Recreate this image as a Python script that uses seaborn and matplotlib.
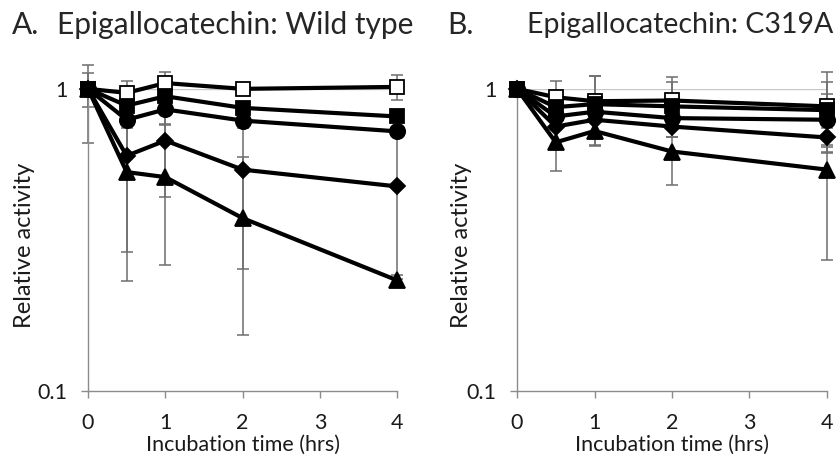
import matplotlib
matplotlib.use("Agg")
import matplotlib.pyplot as plt
import seaborn as sns
from matplotlib.ticker import FixedLocator, NullLocator, FixedFormatter

sns.set_theme(style="white")
plt.rcParams["font.family"] = ["Lato", "DejaVu Sans"]

# incubation times (hrs)
TIME = [0, 0.5, 1, 2, 4]
SERIES = ["open_sq", "sq", "circle", "diamond", "triangle"]

# A. wild type — relative activity
WT_VALUES = {
    "open_sq": [1.0, 0.97, 1.045, 1.0, 1.015],
    "sq": [1.0, 0.88, 0.945, 0.865, 0.81],
    "circle": [1.0, 0.79, 0.855, 0.785, 0.723],
    "diamond": [1.0, 0.60, 0.674, 0.54, 0.475],
    "triangle": [1.0, 0.53, 0.51, 0.373, 0.232],
}
WT_ERR_LO = {
    "open_sq": [0.0, 0.09, 0.09, 0.02, 0.10],
    "sq": [0.13, 0.04, 0.04, 0.03, 0.02],
    "circle": [0.34, 0.047, 0.09, 0.045, 0.02],
    "diamond": [0.0, 0.313, 0.237, 0.287, 0.24],
    "triangle": [0.0, 0.30, 0.25, 0.22, 0.01],
}
WT_ERR_HI = {
    "open_sq": [0.0, 0.09, 0.09, 0.02, 0.10],
    "sq": [0.13, 0.04, 0.04, 0.03, 0.02],
    "circle": [0.20, 0.047, 0.09, 0.045, 0.02],
    "diamond": [0.0, 0.313, 0.237, 0.287, 0.24],
    "triangle": [0.0, 0.30, 0.25, 0.22, 0.01],
}

# B. C319A — relative activity
MUT_VALUES = {
    "open_sq": [1.0, 0.938, 0.91, 0.915, 0.875],
    "sq": [1.0, 0.87, 0.89, 0.875, 0.85],
    "circle": [1.0, 0.81, 0.84, 0.80, 0.79],
    "diamond": [1.0, 0.75, 0.79, 0.75, 0.69],
    "triangle": [1.0, 0.665, 0.725, 0.62, 0.54],
}
MUT_ERR = {
    "open_sq": [0.0, 0.127, 0.19, 0.18, 0.26],
    "sq": [0.0, 0.05, 0.21, 0.18, 0.20],
    "circle": [0.0, 0.05, 0.12, 0.05, 0.17],
    "diamond": [0.0, 0.12, 0.14, 0.06, 0.05],
    "triangle": [0.0, 0.13, 0.08, 0.14, 0.27],
}

TITLES = [("A.", "Epigallocatechin: Wild type"), ("B.", "Epigallocatechin: C319A")]

MARKERS = {
    "open_sq": dict(marker="s", markersize=10.5, markerfacecolor="white"),
    "sq": dict(marker="s", markersize=10.5, markerfacecolor="black"),
    "circle": dict(marker="o", markersize=11, markerfacecolor="black"),
    "diamond": dict(marker="D", markersize=8.5, markerfacecolor="black"),
    "triangle": dict(marker="^", markersize=12, markerfacecolor="black"),
}
AXIS_GREY = "#8c8c8c"
TEXT = "#1a1a1a"

fig = plt.figure(figsize=(8.4, 4.58), dpi=100)
ax_a = fig.add_axes([0.1048, 0.147, 0.368, 0.659])
ax_b = fig.add_axes([0.6155, 0.147, 0.369, 0.659])

# (axes, values, lower err, upper err, y-label x position in axes coords)
panels = [
    (ax_a, WT_VALUES, WT_ERR_LO, WT_ERR_HI, -0.205),
    (ax_b, MUT_VALUES, MUT_ERR, MUT_ERR, -0.18),
]

for ax, values, err_lo, err_hi, ylab_x in panels:
    ax.set_yscale("log")
    ax.axhline(1.0, color="#c8c8c8", linewidth=1.0, zorder=0)
    for name in SERIES:
        ax.errorbar(
            TIME, values[name], yerr=[err_lo[name], err_hi[name]],
            fmt="none", ecolor="#6e6e6e", elinewidth=1.1, capsize=4,
            capthick=1.1, zorder=2, clip_on=False,
        )
    for name in SERIES:
        sns.lineplot(
            x=TIME, y=values[name], ax=ax, color="black", linewidth=3,
            markeredgecolor="black", markeredgewidth=1.3,
            clip_on=False, zorder=3, **MARKERS[name],
        )
    ax.set_xlim(0, 4)
    ax.set_ylim(0.1, 1)
    ax.xaxis.set_major_locator(FixedLocator([0, 1, 2, 3, 4]))
    ax.yaxis.set_major_locator(FixedLocator([0.1, 1]))
    ax.yaxis.set_major_formatter(FixedFormatter(["0.1", "1"]))
    ax.yaxis.set_minor_locator(NullLocator())
    for side in ["top", "right"]:
        ax.spines[side].set_visible(False)
    for side in ["left", "bottom"]:
        ax.spines[side].set_color(AXIS_GREY)
        ax.spines[side].set_linewidth(1.0)
    ax.tick_params(axis="both", direction="out", length=5, width=1.0,
                   color=AXIS_GREY, labelsize=15.5, labelcolor=TEXT,
                   bottom=True, left=True)
    ax.tick_params(axis="x", pad=11)
    ax.tick_params(axis="y", pad=10)
    ax.set_xlabel("Incubation time (hrs)", fontsize=15.5, color=TEXT, va="center")
    ax.xaxis.set_label_coords(0.5, -0.18)
    ax.set_ylabel("Relative activity", fontsize=17, color=TEXT, va="center")
    ax.yaxis.set_label_coords(ylab_x, 0.48)

TITLE_Y = 1 - 25 / 458
fig.text(12 / 840, TITLE_Y, TITLES[0][0], fontsize=21.5, va="center", ha="left")
fig.text(57 / 840, TITLE_Y, TITLES[0][1], fontsize=21.5, va="center", ha="left")
fig.text(447 / 840, TITLE_Y, TITLES[1][0], fontsize=21.5, va="center", ha="left")
fig.text(527 / 840, TITLE_Y, TITLES[1][1], fontsize=20.5, va="center", ha="left")

fig.savefig("out.png", dpi=100)
